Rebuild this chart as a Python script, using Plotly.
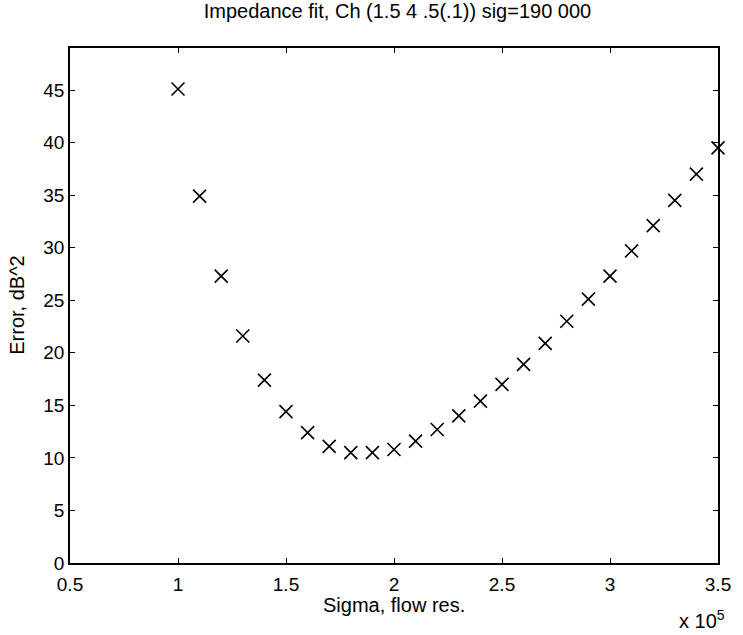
import plotly.graph_objects as go

# Sigma (flow resistivity) in units of 1e5
sigma_1e5 = [1.0, 1.1, 1.2, 1.3, 1.4, 1.5, 1.6, 1.7, 1.8, 1.9, 2.0, 2.1, 2.2,
             2.3, 2.4, 2.5, 2.6, 2.7, 2.8, 2.9, 3.0, 3.1, 3.2, 3.3, 3.4, 3.5]
error_db2 = [45.1, 34.9, 27.3, 21.6, 17.4, 14.4, 12.4, 11.1, 10.5, 10.5, 10.8,
             11.6, 12.7, 14.0, 15.4, 17.0, 18.9, 20.9, 23.0, 25.1, 27.3, 29.7,
             32.1, 34.5, 37.0, 39.5]

x_ticks = [0.5, 1, 1.5, 2, 2.5, 3, 3.5]
x_ticklabels = ["0.5", "1", "1.5", "2", "2.5", "3", "3.5"]
y_ticks = [0, 5, 10, 15, 20, 25, 30, 35, 40, 45]

FONT = "Liberation Sans, Arial, Helvetica, sans-serif"
TICK_SIZE = 19
TEXT_SIZE = 20

fig = go.Figure()
fig.add_trace(go.Scatter(
    x=sigma_1e5, y=error_db2, mode="markers",
    marker=dict(symbol="x-thin-open", size=13, color="black",
                line=dict(color="black", width=1.6)),
    cliponaxis=False, showlegend=False,
))

axis_common = dict(
    showgrid=False, zeroline=False, showline=True, linecolor="black",
    linewidth=1.5, mirror="ticks", ticks="inside", ticklen=5,
    tickcolor="black", tickwidth=1,
    tickfont=dict(family=FONT, size=TICK_SIZE, color="black"),
)

fig.update_layout(
    width=743, height=635,
    margin=dict(l=70, r=20, t=48, b=72),
    paper_bgcolor="white", plot_bgcolor="white",
    font=dict(family=FONT, color="black"),
    title=dict(text="Impedance fit, Ch (1.5 4 .5(.1)) sig=190 000",
               x=0.535, xanchor="center", y=0.982, yanchor="middle",
               font=dict(family=FONT, size=TEXT_SIZE, color="black")),
    xaxis=dict(range=[0.5, 3.5], tickvals=x_ticks, ticktext=x_ticklabels,
               ticklabelstandoff=3, **axis_common),
    yaxis=dict(range=[0, 49], tickvals=y_ticks, **axis_common),
)

# axis titles and the x10^5 exponent label
fig.add_annotation(
    text="Sigma, flow res.", xref="paper", yref="paper",
    x=0.5, xanchor="center", y=-0.081, yanchor="middle", showarrow=False,
    font=dict(family=FONT, size=TEXT_SIZE, color="black"),
)
fig.add_annotation(
    text="Error, dB^2", xref="paper", yref="paper", textangle=-90,
    x=-0.083, xanchor="center", y=0.5, yanchor="middle", showarrow=False,
    font=dict(family=FONT, size=TEXT_SIZE, color="black"),
)
fig.add_annotation(
    text="x 10<sup>5</sup>", xref="paper", yref="paper",
    x=1.014, xanchor="right", y=-0.109, yanchor="middle", showarrow=False,
    font=dict(family=FONT, size=TEXT_SIZE, color="black"),
)

fig.write_html("out.html")
